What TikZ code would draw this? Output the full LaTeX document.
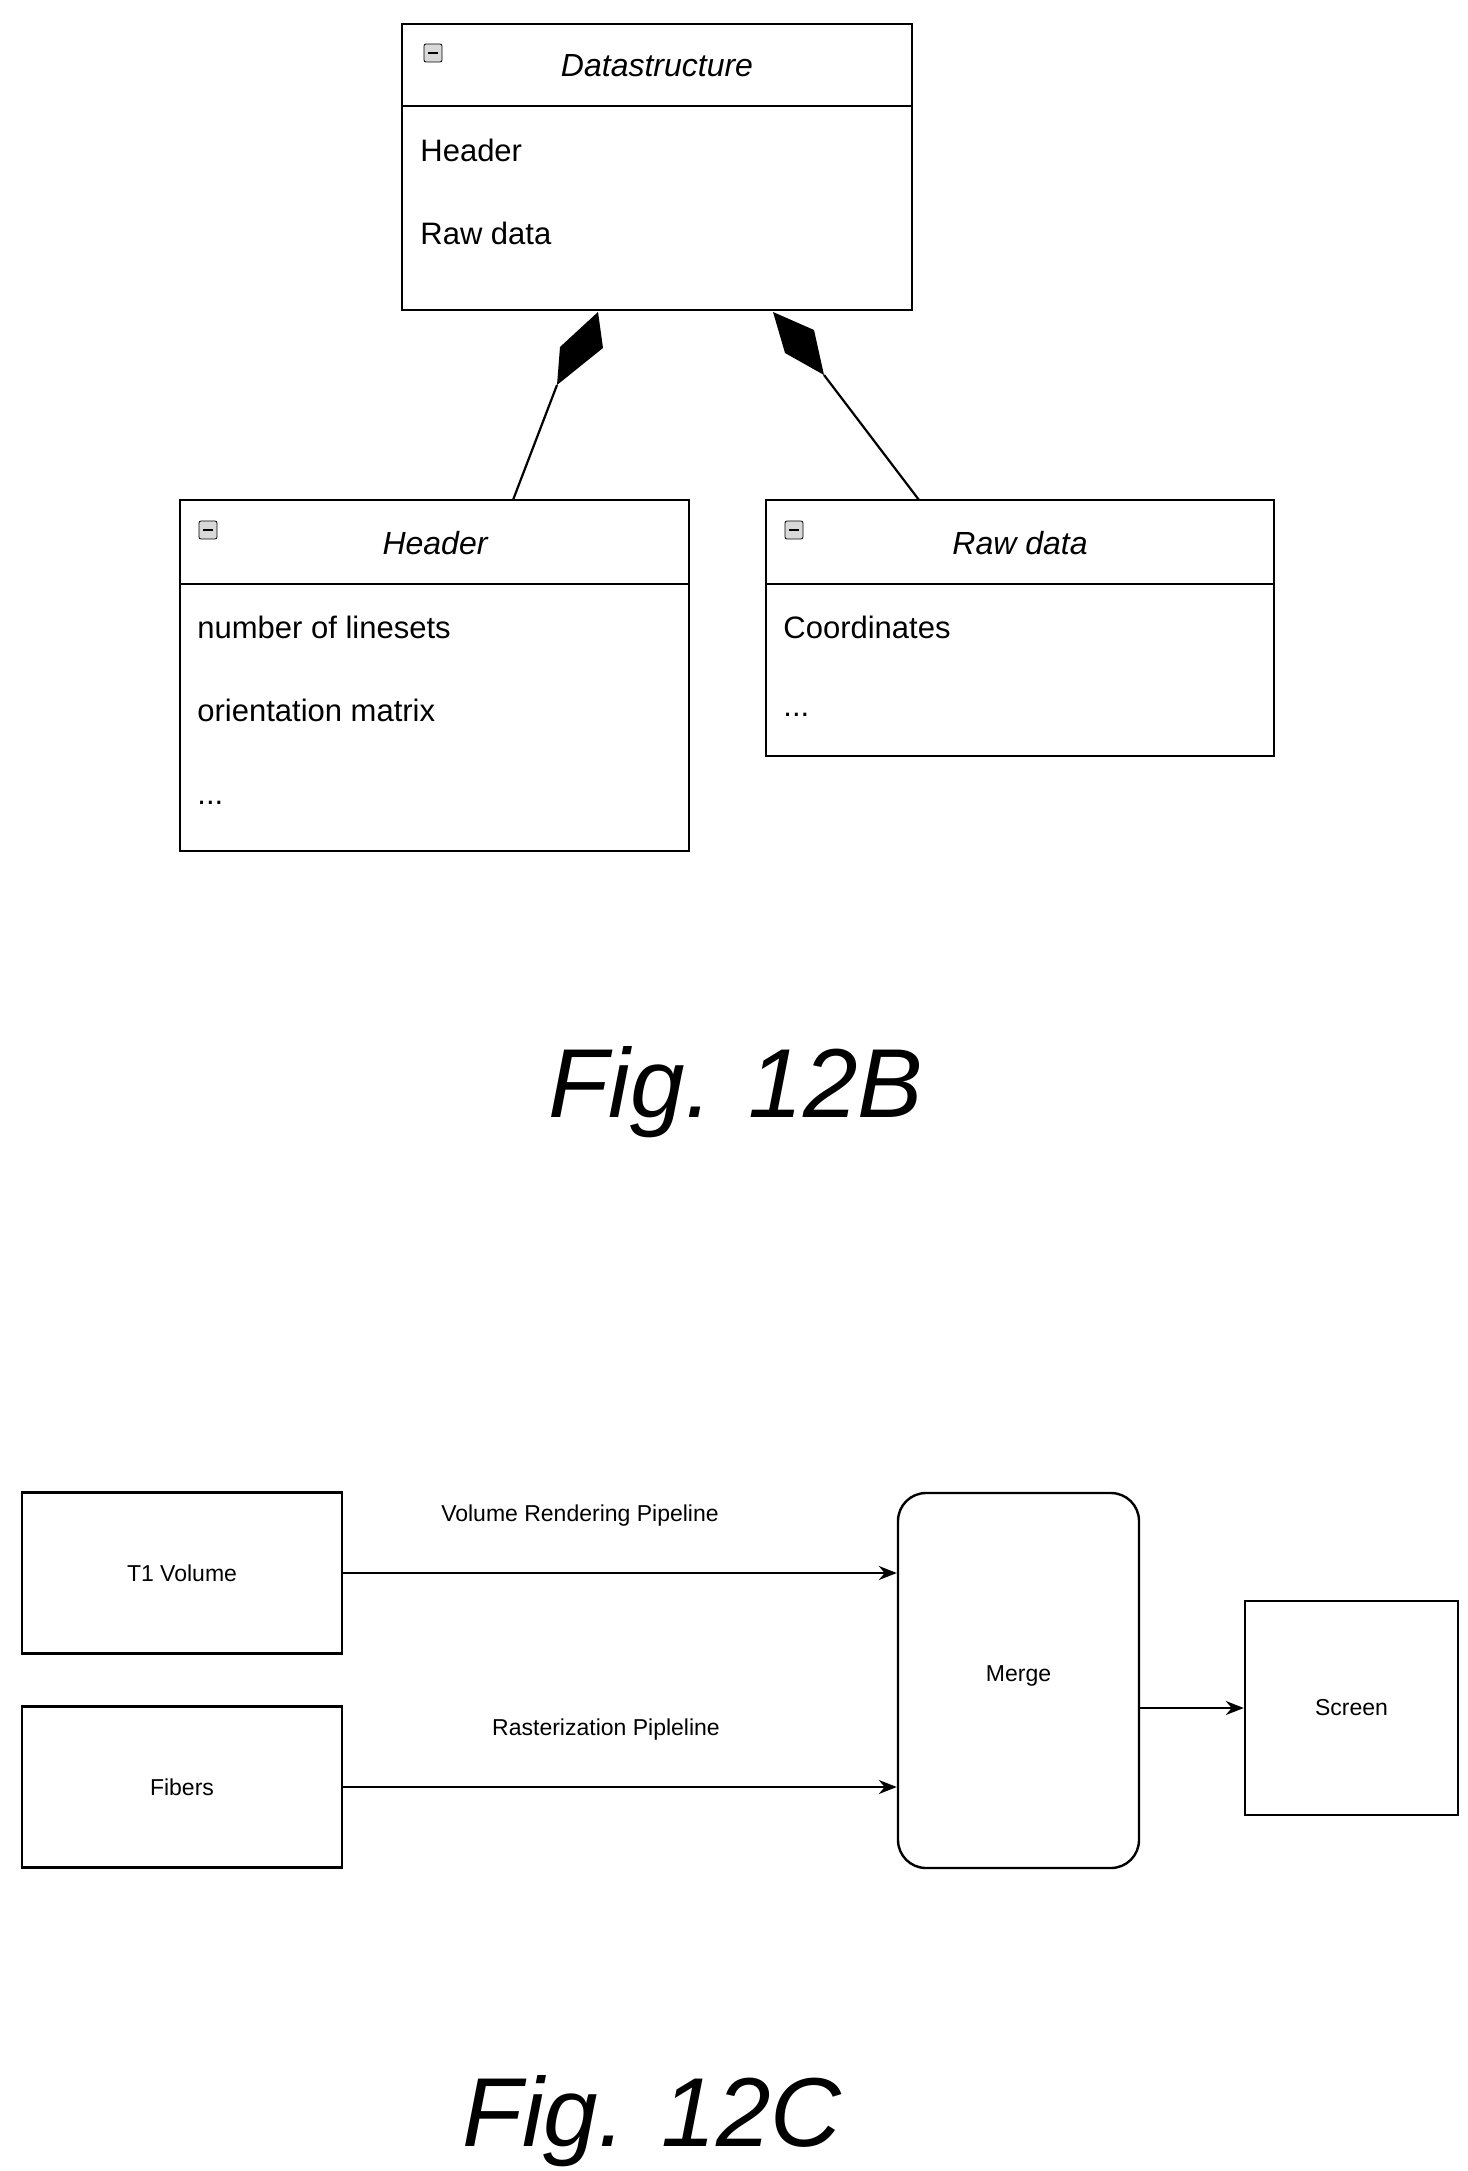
\documentclass[tikz,border=0pt]{standalone}
\usepackage{fontspec}
\setmainfont{Liberation Sans}
\usetikzlibrary{arrows.meta}
\begin{document}
\begin{tikzpicture}[x=0.5pt,y=-0.5pt,
  box/.style={draw,line width=1.2pt},
  t/.style={font=\fontsize{15.5}{18}\selectfont,anchor=west,inner sep=0},
  s/.style={font=\fontsize{11.5}{13}\selectfont,inner sep=0},
  arr/.style={-{Stealth[length=9pt,width=7pt]},line width=0.9pt},
  icon/.style={draw,fill=gray!30,rounded corners=1pt,minimum size=9pt,inner sep=0,
    path picture={\draw[line width=0.8pt] ([xshift=-2.5pt]path picture bounding box.center)--([xshift=2.5pt]path picture bounding box.center);}}]
\useasboundingbox (0,0) rectangle (1467,2171);
% Datastructure
\draw[box] (402,24) rectangle (912,310);
\draw[box] (402,106)--(912,106);
\node[icon] (i1) at (433,53) {};
\node[t,anchor=center,font=\fontsize{16}{18}\selectfont\itshape] (ds) at (657,66) {Datastructure};
\node[t] (dh) at (420,150) {Header};
\node[t] (dr) at (420,233) {Raw data};
% Header
\draw[box] (180,500) rectangle (689,851);
\draw[box] (180,584)--(689,584);
\node[icon] (i2) at (208,530) {};
\node[t,anchor=center,font=\fontsize{16}{18}\selectfont\itshape] (hh) at (435,543) {Header};
\node[t] (h1) at (197,627) {number of linesets};
\node[t] (h2) at (197,710) {orientation matrix};
\node[t] (h3) at (197,803) {...};
% Raw data
\draw[box] (766,500) rectangle (1274,756);
\draw[box] (766,584)--(1274,584);
\node[icon] (i3) at (794,530) {};
\node[t,anchor=center,font=\fontsize{16}{18}\selectfont\itshape] (rh) at (1020,543) {Raw data};
\node[t] (r1) at (783,627) {Coordinates};
\node[t] (r2) at (783,715) {...};
% compositions
\coordinate (e1) at (513,500);
\coordinate (e2) at (919,500);
\fill (598,312)--(603,348)--(557,385)--(560,347)--cycle;
\fill (773,312)--(814,330)--(824,375)--(785,353)--cycle;
\draw[line width=1.1pt] (557,385)--(e1);
\draw[line width=1.1pt] (824,375)--(e2);
\node[font=\fontsize{49}{52}\selectfont\itshape] (f1) at (736,1092) {Fig. 12B};
% 12C
\node[box,s,minimum width=160pt,minimum height=80.5pt] (t1) at (182,1573) {T1 Volume};
\node[box,s,minimum width=160pt,minimum height=80.5pt] (fb) at (182,1787) {Fibers};
\node[box,s,rounded corners=14pt,minimum width=120.5pt,minimum height=187.5pt] (mg) at (1018.5,1680.5) {\raisebox{7pt}{Merge}};
\node[box,s,minimum width=106.5pt,minimum height=107pt] (sc) at (1351.5,1708) {Screen};
\draw[arr] (t1.east)--(t1.east-|mg.west) node[s,midway,above=23pt,xshift=-20pt] (l1) {Volume Rendering Pipeline};
\draw[arr] (fb.east)--(fb.east-|mg.west) node[s,midway,above=23pt,xshift=-7pt] (l2) {Rasterization Pipleline};
\draw[arr] (mg.east|-sc.west)--(sc.west);
\node[font=\fontsize{49}{52}\selectfont\itshape] (f2) at (652,2121) {Fig. 12C};
\end{tikzpicture}
\end{document}
